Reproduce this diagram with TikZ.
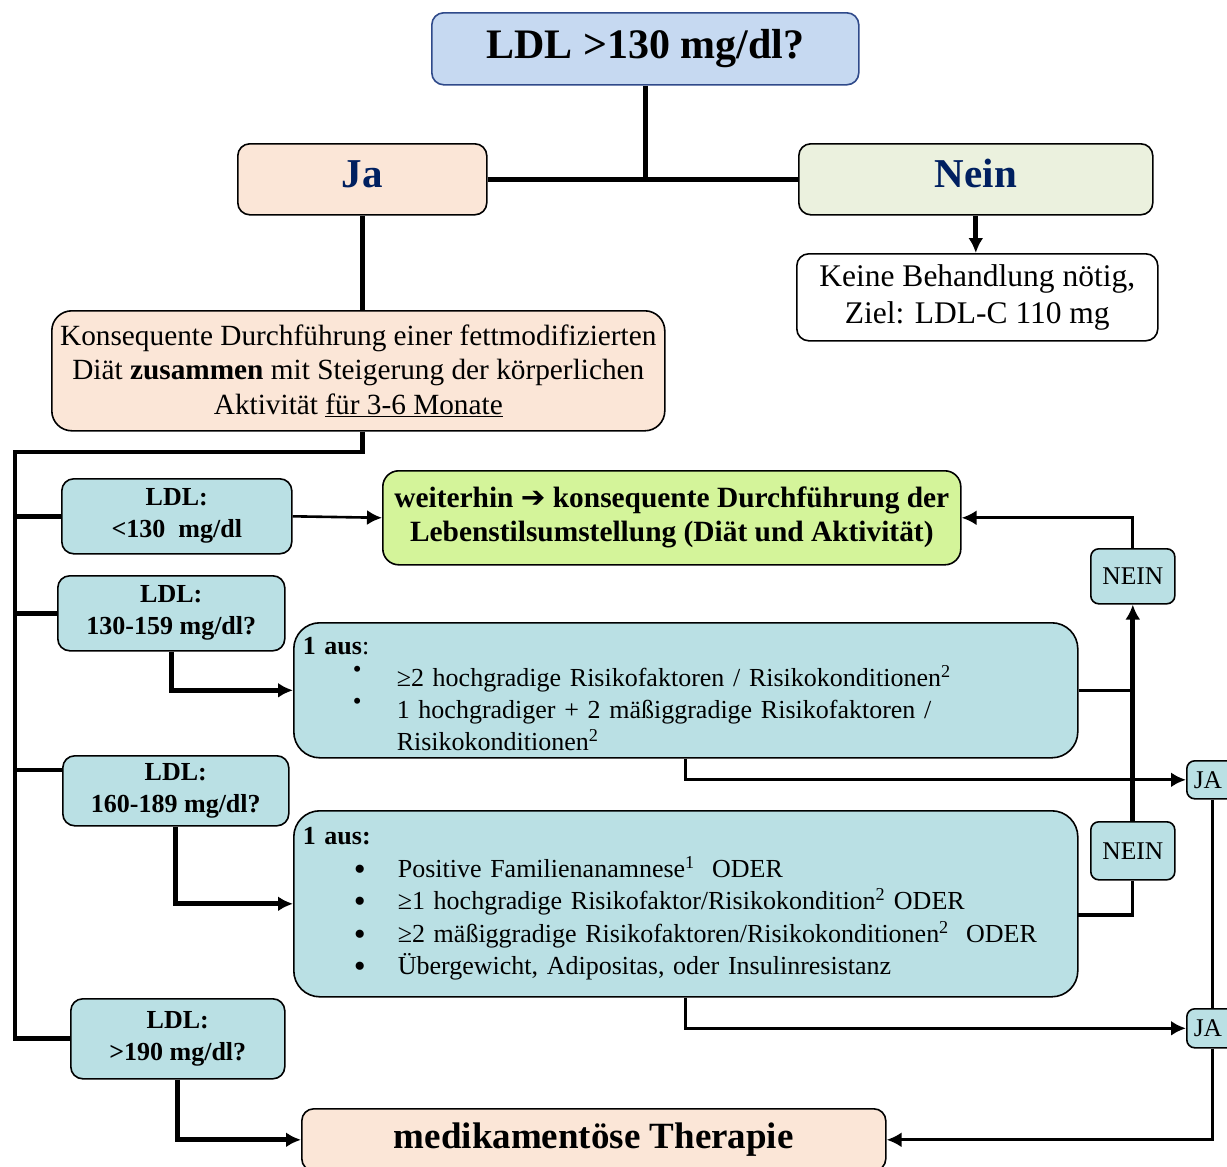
\documentclass[tikz,border=0pt]{standalone}
\usepackage{fontspec}
\setmainfont{Liberation Serif}
\newfontfamily\dejavu{DejaVu Sans}
\usetikzlibrary{arrows.meta,calc}
\definecolor{topblue}{HTML}{C6D9F1}
\definecolor{topborder}{HTML}{2F4A8A}
\definecolor{peach}{HTML}{FBE6D7}
\definecolor{neingreen}{HTML}{EBF1DE}
\definecolor{lime}{HTML}{D4F49A}
\definecolor{tealbg}{HTML}{BAE0E4}
\definecolor{navy}{HTML}{002060}
\newcommand\smallbul{\raisebox{9pt}{\fontsize{25}{25}\selectfont •}}
\newcommand\bigbul{\makebox[44pt][l]{\raisebox{-3pt}{\fontsize{34}{34}\selectfont •}}}
\begin{document}
\begin{tikzpicture}[x=1pt,y=-1pt,
  box/.style={draw=black, line width=1.6pt, rounded corners=12pt, anchor=north west, inner sep=0pt, align=center},
  tealbox/.style={box, fill=tealbg},
  ldlbox/.style={tealbox, font=\fontsize{26}{32}\selectfont\bfseries},
  small/.style={tealbox, rounded corners=8pt, font=\fontsize{25.5}{30}\selectfont},
  bigbox/.style={tealbox, rounded corners=26pt, align=left, inner xsep=9pt, text width=766pt},
  answer/.style={box, minimum height=71pt, text height=28pt, text depth=12pt,
      font=\fontsize{41}{46}\selectfont\bfseries\color{navy}},
  heavy/.style={line width=4.8pt},
  medium/.style={line width=3.2pt},
  thin/.style={line width=2.6pt},
  tip/.style={-{Latex[length=15pt,width=15pt]}},
]
\useasboundingbox (0,0) rectangle (1227,1167);

% nodes
\node[box, draw=topborder, fill=topblue, minimum width=427pt, minimum height=72pt,
      font=\fontsize{42}{48}\selectfont\bfseries] (top) at (431,12) {LDL >130 mg/dl?};
\node[answer, fill=peach, minimum width=249pt] (ja) at (237,143) {Ja};
\node[answer, fill=neingreen, minimum width=354pt] (nein) at (798,143) {Nein};
\node[box, fill=white, minimum width=361pt, minimum height=87pt,
      font=\fontsize{31.5}{37}\selectfont] (keine) at (796,253) {Keine Behandlung nötig,\\Ziel: LDL-C 110 mg};
\node[box, fill=peach, rounded corners=20pt, minimum width=613pt, minimum height=120pt,
      font=\fontsize{29.3}{34.5}\selectfont] (konseq) at (51,310)
  {Konsequente Durchführung einer fettmodifizierten\\Diät \textbf{zusammen} mit Steigerung der körperlichen\\Aktivität \underline{für 3-6 Monate}};

\node[ldlbox, minimum width=230pt, minimum height=75pt] (ldl1) at (61,478) {LDL:\\<130\ \ mg/dl};
\node[ldlbox, minimum width=227pt, minimum height=75pt] (ldl2) at (57,575) {LDL:\\130-159 mg/dl?};
\node[ldlbox, minimum width=226pt, minimum height=70pt] (ldl3) at (62,755) {LDL:\\160-189 mg/dl?};
\node[ldlbox, minimum width=214pt, minimum height=80pt] (ldl4) at (70,998) {LDL:\\>190 mg/dl?};

\node[box, fill=lime, rounded corners=16pt, minimum width=578pt, minimum height=94pt,
      font=\fontsize{29.4}{34}\selectfont\bfseries] (green) at (382,470)
  {weiterhin {\dejavu\bfseries ➔} konsequente Durchführung der\\Lebenstilsumstellung (Diät und Aktivität)};

\node[bigbox, minimum height=135pt, font=\fontsize{26}{32}\selectfont] (boxA) at (293,622)
  {\rule{0pt}{24pt}\textbf{1 aus}:\\
   \hspace*{50pt}\makebox[44pt][l]{\smallbul}≥2 hochgradige Risikofaktoren / Risikokonditionen\textsuperscript{2}\\
   \hspace*{50pt}\makebox[44pt][l]{\smallbul}1 hochgradiger + 2 mäßiggradige Risikofaktoren /\\
   \hspace*{94pt}Risikokonditionen\textsuperscript{2}};
\node[bigbox, minimum height=186pt, font=\fontsize{26}{32.5}\selectfont] (boxB) at (293,810)
  {\textbf{1 aus:}\\
   \hspace*{51pt}\bigbul Positive Familienanamnese\textsuperscript{1}\ \ ODER\\
   \hspace*{51pt}\bigbul ≥1 hochgradige Risikofaktor/Risikokondition\textsuperscript{2} ODER\\
   \hspace*{51pt}\bigbul ≥2 mäßiggradige Risikofaktoren/Risikokonditionen\textsuperscript{2}\ \ ODER\\
   \hspace*{51pt}\bigbul Übergewicht, Adipositas, oder Insulinresistanz};

\node[box, fill=peach, minimum width=584pt, minimum height=62pt,
      font=\fontsize{37}{42}\selectfont\bfseries] (medi) at (301,1108) {medikamentöse Therapie};

\node[small, minimum width=84pt, minimum height=55pt] (nein1) at (1090,548) {NEIN};
\node[small, minimum width=84pt, minimum height=58pt] (nein2) at (1090,821) {NEIN};
\node[small, minimum width=52pt, minimum height=38pt, align=left, text width=38pt, inner xsep=7pt] (ja1) at (1186,760) {JA};
\node[small, minimum width=52pt, minimum height=39pt, align=left, text width=38pt, inner xsep=7pt] (ja2) at (1186,1008) {JA};

% helper coordinates
\coordinate (railtop) at (15,452);
\coordinate (b3) at (15,770);
\coordinate (bBr) at (1077,915);

% connectors
\draw[heavy] (top.south) -- (top.south |- ja.east);
\draw[heavy] (ja.east) -- (nein.west);
\draw[heavy, tip] (nein.south) -- (nein.south |- keine.north);
\draw[heavy] (ja.south) -- (ja.south |- konseq.north);
\draw[heavy] (konseq.south -| ja.south) |- (railtop) -- (railtop |- ldl4.west) -- (ldl4.west);
\draw[heavy] (railtop |- ldl1.west) -- (ldl1.west);
\draw[heavy] (railtop |- ldl2.west) -- (ldl2.west);
\draw[heavy] (b3) -- (b3 -| ldl3.west);
\draw[thin, tip] (ldl1.east) -- (green.west);
\draw[heavy, tip] (ldl2.south) |- (boxA.west);
\draw[heavy, tip] (ldl3.south) |- (boxB.west);
\draw[heavy, tip] (ldl4.south) |- (medi.west);
\draw[medium, tip] (nein1.north) |- (green.east);
\draw[medium] (boxA.east) -- (boxA.east -| nein1.south);
\draw[heavy, tip] (nein2.north) -- (nein1.south);
\draw[medium] (bBr) -| (nein2.south);
\draw[medium, tip] (boxA.south) |- (ja1.west);
\draw[medium, tip] (boxB.south) |- (ja2.west);
\draw[medium] (ja1.south) -- (ja2.north);
\draw[medium, tip] (ja2.south) |- (medi.east);
\end{tikzpicture}
\end{document}
